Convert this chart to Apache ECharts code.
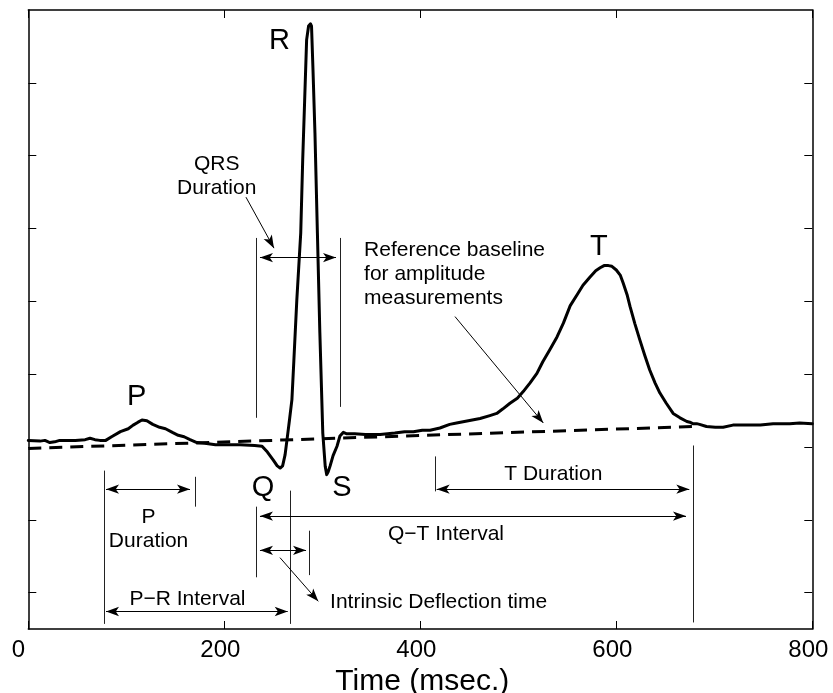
<!DOCTYPE html>
<html><head><meta charset="utf-8">
<script src="https://cdn.jsdelivr.net/npm/echarts@6/dist/echarts.min.js"></script>
<style>html,body{margin:0;padding:0;background:#fff}#c{width:833px;height:693px}</style>
</head><body><div id="c"></div>
<script>
const FONT = '"Liberation Sans", Arial, Helvetica, sans-serif';
const xTicks = [0, 200, 400, 600, 800];
const yTicks = [0, 1, 2, 3, 4, 5, 6, 7];

// ECG trace (time in msec, amplitude in tick units)
const ecgTime = [0, 12, 17, 22, 27, 32, 48, 58, 63, 68, 73, 79, 85, 94, 102, 107, 112, 116, 121, 127, 134, 140, 147, 153, 159, 165, 172, 180, 191, 201, 216, 231, 238.5, 244, 250, 254, 257, 259.5, 262, 264, 266.5, 269, 271, 274, 278, 280, 282, 284, 286, 288, 289, 290.5, 292.5, 295, 297.5, 300.5, 303, 304.5, 306, 308, 311, 315, 318, 321.5, 325, 333, 344, 359, 374, 384, 393, 402, 410, 420, 430, 437, 449, 461, 471, 478, 484, 491.5, 499, 505, 512, 519, 525, 532, 539.5, 546, 553, 560, 566, 573, 579, 583.5, 587.5, 592, 595.5, 600, 604, 607, 611, 614, 619, 624, 629, 634, 639.5, 644.5, 651, 658, 665, 672, 675, 678, 682, 685, 692, 701, 709, 719, 731, 747, 760, 777, 787, 800];
const ecgValue = [2.09, 2.08, 2.09, 2.06, 2.07, 2.09, 2.09, 2.10, 2.12, 2.10, 2.09, 2.09, 2.14, 2.21, 2.25, 2.30, 2.34, 2.37, 2.36, 2.31, 2.27, 2.25, 2.20, 2.16, 2.14, 2.10, 2.06, 2.05, 2.03, 2.03, 2.03, 2.02, 2.01, 1.93, 1.82, 1.74, 1.71, 1.74, 1.89, 2.10, 2.37, 2.65, 3.19, 4.02, 4.94, 5.94, 6.76, 7.59, 7.78, 7.81, 7.78, 7.18, 6.31, 4.94, 3.57, 2.19, 1.73, 1.62, 1.66, 1.74, 1.88, 2.01, 2.15, 2.20, 2.18, 2.18, 2.17, 2.17, 2.19, 2.21, 2.21, 2.23, 2.23, 2.26, 2.31, 2.33, 2.36, 2.39, 2.43, 2.46, 2.52, 2.60, 2.67, 2.76, 2.88, 3.01, 3.17, 3.33, 3.51, 3.70, 3.94, 4.09, 4.22, 4.33, 4.42, 4.46, 4.49, 4.49, 4.48, 4.43, 4.36, 4.25, 4.09, 3.93, 3.69, 3.47, 3.26, 3.06, 2.88, 2.74, 2.60, 2.46, 2.40, 2.35, 2.34, 2.32, 2.32, 2.31, 2.28, 2.27, 2.27, 2.30, 2.30, 2.30, 2.32, 2.32, 2.33, 2.32];

// Reference baseline (dashed)
const baselineTime = [0, 678];
const baselineValue = [1.98, 2.28];

// Thin vertical marker lines
const vlineTime = [77.6, 170.1, 233.1, 318.1, 233.1, 267.8, 286.4, 415.3, 679];
const vlineFrom = [1.675, 1.59, 4.87, 4.87, 1.18, 1.40, 0.85, 1.87, 2.02];
const vlineTo = [-0.43, 1.18, 2.40, 2.55, 0.21, -0.43, 0.24, 1.39, -0.41];

// Double-headed interval arrows (tip to tip)
const spanFrom = [79.3, 236.4, 236.4, 416.7, 236.4, 79.3];
const spanTo = [165.0, 314.0, 671.1, 674.5, 283.4, 264.7];
const spanLevel = [1.42, 4.60, 1.05, 1.42, 0.58, -0.26];

// Pointer arrows (tail to tip)
const ptrFromTime = [222.1, 256.8, 435.4];
const ptrFromValue = [5.43, 0.48, 3.79];
const ptrToTime = [250.7, 295.9, 525.5];
const ptrToValue = [4.73, -0.12, 2.33];

// Wave letters
const waveNames = ['P', 'Q', 'R', 'S', 'T'];
const waveTime = [110.6, 239.5, 256.3, 320.1, 582.3];
const waveValue = [2.69, 1.44, 7.57, 1.44, 4.75];

// Annotation texts
const noteText = ['QRS\nDuration', 'Reference baseline\nfor amplitude\nmeasurements', 'P\nDuration', 'P\u2212R Interval', 'Q\u2212T Interval', 'T Duration', 'Intrinsic Deflection time'];
const noteTime = [192.2, 342.6, 122.7, 162.4, 426.2, 535.7, 307.9];
const noteValue = [5.72, 4.375, 0.87, -0.086, 0.806, 1.622, -0.135];
const leftAlignedNotes = [1, 6];

const axisLine = {show: true, onZero: false, lineStyle: {color: '#000', width: 1.5}};
const tickStyle = {color: '#000', width: 1};
const arrowSize = [7, 13];

const chart = echarts.init(document.getElementById('c'), null, {renderer: 'canvas'});
chart.setOption({
  animation: false,
  backgroundColor: '#fff',
  grid: {left: 28.3, right: 20.7, top: 10, bottom: 64, containLabel: false, outerBoundsMode: 'none'},
  xAxis: [
    {type: 'value', min: xTicks[0], max: xTicks[xTicks.length - 1], interval: 200, position: 'bottom',
     axisLine: axisLine, splitLine: {show: false},
     axisTick: {show: true, inside: true, length: 8, lineStyle: tickStyle},
     axisLabel: {show: true, margin: 9, color: '#000', fontSize: 24, fontFamily: FONT,
       formatter: v => v === 0 ? '{z|0}' : '{n|' + v + '}',
       rich: {z: {fontSize: 24, fontFamily: FONT, color: '#000', padding: [0, 20, 0, 0]},
              n: {fontSize: 24, fontFamily: FONT, color: '#000', padding: [0, 8, 0, 0]}}},
     name: 'Time (msec.)', nameLocation: 'middle', nameGap: 33,
     nameTextStyle: {fontSize: 30, color: '#000', fontFamily: FONT, padding: [0, 0, 0, 4]}},
    {type: 'value', min: xTicks[0], max: xTicks[xTicks.length - 1], interval: 200, position: 'top',
     axisLine: axisLine, splitLine: {show: false},
     axisTick: {show: true, inside: true, length: 8, lineStyle: tickStyle},
     axisLabel: {show: false}}
  ],
  yAxis: [
    {type: 'value', min: -0.5, max: 8, position: 'left', axisLine: axisLine, splitLine: {show: false},
     axisTick: {show: true, inside: true, length: 8, lineStyle: tickStyle, customValues: yTicks},
     axisLabel: {show: false}},
    {type: 'value', min: -0.5, max: 8, position: 'right', axisLine: axisLine, splitLine: {show: false},
     axisTick: {show: true, inside: true, length: 8, lineStyle: tickStyle, customValues: yTicks},
     axisLabel: {show: false}}
  ],
  series: [
    {type: 'line', name: 'ECG', data: ecgTime.map((t, i) => [t, ecgValue[i]]),
     symbol: 'none', showSymbol: false, z: 5,
     lineStyle: {color: '#000', width: 3, join: 'round', cap: 'round'}},
    {type: 'line', name: 'Baseline', data: baselineTime.map((t, i) => [t, baselineValue[i]]),
     symbol: 'none', showSymbol: false, z: 4,
     lineStyle: {color: '#000', width: 3, type: [13, 8]}},
    {type: 'lines', coordinateSystem: 'cartesian2d', symbol: 'none', z: 3,
     lineStyle: {color: '#222', width: 1, opacity: 1, curveness: 0},
     data: vlineTime.map((t, i) => ({coords: [[t, vlineFrom[i]], [t, vlineTo[i]]]}))},
    {type: 'lines', coordinateSystem: 'cartesian2d', symbol: ['arrow', 'arrow'], symbolSize: [arrowSize, arrowSize], z: 3,
     lineStyle: {color: '#000', width: 1, opacity: 1, curveness: 0},
     data: spanFrom.map((t, i) => ({coords: [[t, spanLevel[i]], [spanTo[i], spanLevel[i]]]}))},
    {type: 'lines', coordinateSystem: 'cartesian2d', symbol: ['none', 'arrow'], symbolSize: [arrowSize, arrowSize], z: 3,
     lineStyle: {color: '#000', width: 1, opacity: 1, curveness: 0},
     data: ptrFromTime.map((t, i) => ({coords: [[t, ptrFromValue[i]], [ptrToTime[i], ptrToValue[i]]]}))},
    {type: 'scatter', symbolSize: 1, itemStyle: {color: 'rgba(0,0,0,0)', opacity: 1}, z: 6, silent: true,
     label: {show: true, position: 'inside', formatter: '{b}', color: '#000', opacity: 1, fontSize: 29, fontFamily: FONT},
     data: waveNames.map((n, i) => ({name: n, value: [waveTime[i], waveValue[i]]}))},
    {type: 'scatter', symbolSize: 1, itemStyle: {color: 'rgba(0,0,0,0)', opacity: 1}, z: 6, silent: true,
     label: {show: true, position: 'inside', formatter: '{b}', color: '#000', opacity: 1, fontSize: 21, lineHeight: 24, fontFamily: FONT},
     data: noteText.map((n, i) => ({name: n, value: [noteTime[i], noteValue[i]],
       label: leftAlignedNotes.includes(i) ? {align: 'left'} : {align: 'center'}}))}
  ]
});
</script></body></html>
